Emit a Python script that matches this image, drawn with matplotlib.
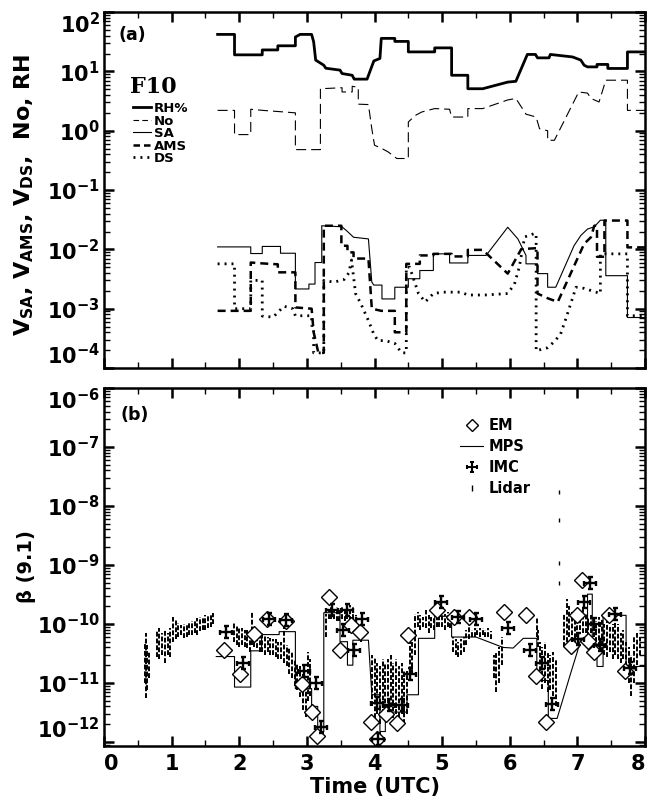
import numpy as np
import matplotlib
matplotlib.use("Agg")
import matplotlib.pyplot as plt
import matplotlib.ticker as ticker
from matplotlib.lines import Line2D
from matplotlib.path import Path

# ---- panel (a): step-like time series, F10 ----
rh_t = [1.68, 1.93, 1.93, 2.34, 2.34, 2.57, 2.57, 2.83, 2.83, 2.90, 3.07, 3.10, 3.13, 3.25, 3.28, 3.49,
        3.52, 3.67, 3.70, 3.89, 3.99, 4.08, 4.10, 4.30, 4.30, 4.50, 4.50, 4.89, 4.89, 5.14, 5.14, 5.38,
        5.38, 5.60, 5.97, 6.09, 6.26, 6.38, 6.41, 6.58, 6.60, 6.93, 7.05, 7.10, 7.15, 7.29, 7.29, 7.45,
        7.45, 7.74, 7.74, 8.00]
rh_v = [42, 42, 19, 19, 23, 23, 27, 27, 38, 42, 42, 31.5, 15.5, 12.7, 11.3, 10.5,
        9.2, 8.6, 7.4, 7.4, 15, 16.5, 36, 36, 32, 32, 21.3, 21.3, 24.9, 24.9, 8.6, 8.6,
        5.1, 5.1, 6.6, 6.8, 19.3, 19.3, 16.9, 16.9, 19.3, 17.5, 15.5, 12.7, 11.9, 11.9, 13.1, 13.1,
        11.2, 11.2, 21.3, 21.3]

no_t = [1.68, 1.93, 1.93, 2.17, 2.17, 2.35, 2.71, 2.83, 2.83, 3.20, 3.20, 3.52, 3.52, 3.67, 3.67, 3.76,
        3.76, 3.91, 3.96, 4.00, 4.11, 4.20, 4.33, 4.50, 4.50, 4.60, 4.70, 4.89, 5.11, 5.14, 5.38, 5.38,
        5.60, 5.97, 6.09, 6.24, 6.39, 6.44, 6.56, 6.56, 6.66, 7.02, 7.15, 7.20, 7.32, 7.42, 7.74, 7.74,
        8.00]
no_v = [2.2, 2.2, 0.86, 0.86, 2.3, 2.2, 2.05, 2.0, 0.48, 0.48, 5.1, 5.3, 4.5, 4.5, 5.6, 5.4,
        2.8, 2.76, 1.08, 0.57, 0.5, 0.44, 0.34, 0.34, 1.4, 1.8, 2.07, 2.36, 2.3, 1.7, 1.7, 2.36,
        2.36, 3.3, 3.5, 1.9, 1.7, 1.08, 1.0, 0.69, 0.69, 4.5, 4.3, 3.5, 3.05, 7.1, 7.1, 2.2,
        2.2]

sa_t = [1.68, 2.17, 2.17, 2.34, 2.34, 2.61, 2.61, 2.83, 2.83, 3.03, 3.03, 3.12, 3.12, 3.22, 3.22, 3.52,
        3.60, 3.69, 3.91, 3.96, 3.99, 4.11, 4.11, 4.30, 4.30, 4.50, 4.50, 4.67, 4.67, 4.87, 4.87, 5.11,
        5.11, 5.38, 5.38, 5.65, 5.97, 6.12, 6.24, 6.24, 6.41, 6.41, 6.56, 6.56, 6.68, 6.95, 7.05, 7.15,
        7.25, 7.34, 7.42, 7.42, 7.74, 7.74, 8.00]
sa_v = [0.011, 0.011, 0.0085, 0.0085, 0.0112, 0.0112, 0.0086, 0.0086, 0.00215, 0.00215, 0.0026, 0.0026,
        0.006, 0.006, 0.025, 0.024, 0.02, 0.016, 0.015, 0.0028, 0.0025, 0.0025, 0.00146, 0.00146,
        0.0023, 0.0023, 0.0032, 0.0032, 0.0044, 0.0044, 0.0084, 0.0084, 0.0059, 0.0059, 0.0079, 0.0079,
        0.0236, 0.015, 0.0079, 0.0057, 0.0057, 0.0039, 0.0039, 0.0023, 0.0023, 0.0115, 0.0171, 0.022,
        0.024, 0.031, 0.031, 0.0036, 0.0036, 0.00071, 0.00071]

ams_t = [1.68, 2.17, 2.17, 2.34, 2.57, 2.57, 2.83, 2.83, 3.07, 3.10, 3.17, 3.25, 3.25, 3.51, 3.51, 3.60,
         3.60, 3.69, 3.69, 3.91, 3.96, 4.10, 4.30, 4.30, 4.47, 4.47, 4.67, 4.67, 4.87, 4.87, 5.14, 5.14,
         5.38, 5.38, 5.60, 5.97, 6.17, 6.41, 6.41, 6.56, 6.71, 7.10, 7.20, 7.25, 7.29, 7.29, 7.40, 7.40,
         7.74, 7.74, 8.00]
ams_v = [0.00092, 0.00092, 0.006, 0.0058, 0.0056, 0.0041, 0.0041, 0.00105, 0.001, 0.0004, 0.00018, 0.00018,
         0.025, 0.025, 0.0115, 0.0115, 0.0089, 0.0089, 0.007, 0.007, 0.001, 0.00092, 0.00092, 0.0004,
         0.0004, 0.0057, 0.0057, 0.0079, 0.0079, 0.0084, 0.0084, 0.0076, 0.0076, 0.0098, 0.0098, 0.0039,
         0.0101, 0.0105, 0.0018, 0.0015, 0.0013, 0.0124, 0.016, 0.025, 0.025, 0.0075, 0.0075, 0.0306,
         0.0306, 0.0108, 0.0108]

ds_t = [1.68, 1.93, 1.93, 2.17, 2.17, 2.34, 2.34, 2.50, 2.66, 2.79, 2.83, 3.07, 3.07, 3.10, 3.10, 3.25,
        3.25, 3.40, 3.55, 3.62, 3.66, 3.72, 3.80, 3.91, 3.99, 4.05, 4.16, 4.30, 4.40, 4.47, 4.47, 4.52,
        4.65, 4.75, 4.87, 5.01, 5.28, 5.38, 5.63, 5.97, 6.07, 6.14, 6.22, 6.36, 6.39, 6.39, 6.56, 6.66,
        6.75, 6.82, 6.90, 6.98, 7.10, 7.34, 7.34, 7.74, 7.74, 8.00]
ds_v = [0.0057, 0.0057, 0.001, 0.001, 0.003, 0.003, 0.00075, 0.00072, 0.0011, 0.001, 0.00076, 0.00076,
        0.00052, 0.00052, 0.00018, 0.00018, 0.003, 0.0028, 0.0031, 0.004, 0.0066, 0.0018, 0.0012, 0.00063,
        0.00037, 0.00029, 0.00029, 0.00026, 0.00018, 0.00018, 0.005, 0.005, 0.0018, 0.0013, 0.0018, 0.0019,
        0.0019, 0.0017, 0.0017, 0.0018, 0.0026, 0.005, 0.0162, 0.0184, 0.0184, 0.000195, 0.00022, 0.00028,
        0.00037, 0.00063, 0.0012, 0.0023, 0.0022, 0.0018, 0.0084, 0.0084, 0.00076, 0.00076]

# ---- panel (b): backscatter beta(9.1) ----
em_t = [1.77, 2.01, 2.22, 2.41, 2.69, 2.93, 3.08, 3.15, 3.32, 3.49, 3.65, 3.79, 3.95, 4.03, 4.17, 4.33,
        4.49, 4.92, 5.18, 5.40, 5.92, 6.24, 6.39, 6.54, 6.91, 7.00, 7.07, 7.15, 7.24, 7.46, 7.71]
em_v = [3.6e-11, 1.4e-11, 6.8e-11, 1.2e-10, 1.1e-10, 9.5e-12, 3.2e-12, 1.25e-12, 2.9e-10, 3.6e-11,
        9.7e-11, 7.2e-11, 2.2e-12, 1.1e-12, 3.0e-12, 2.1e-12, 6.4e-11, 1.7e-10, 1.3e-10, 1.3e-10,
        1.6e-10, 1.4e-10, 1.3e-11, 2.2e-12, 4.2e-11, 1.4e-10, 5.6e-10, 5.2e-11, 3.4e-11, 1.4e-10, 1.6e-11]

imc_t = [1.80, 2.05, 2.44, 2.69, 2.95, 3.13, 3.21, 3.37, 3.54, 3.59, 3.69, 3.81, 4.03, 4.05, 4.21, 4.40,
         4.52, 4.99, 5.24, 5.50, 5.97, 6.30, 6.47, 6.63, 7.01, 7.10, 7.19, 7.25, 7.34, 7.56, 7.78]
imc_v = [7.2e-11, 2.2e-11, 1.2e-10, 1.15e-10, 1.6e-11, 1.0e-11, 1.8e-12, 1.7e-10, 7.9e-11, 1.7e-10,
         3.6e-11, 1.2e-10, 4.6e-12, 1.1e-12, 4.3e-12, 4.3e-12, 1.4e-11, 2.4e-10, 1.3e-10, 1.2e-10,
         8.7e-11, 3.6e-11, 2.2e-11, 4.4e-12, 5.6e-11, 2.4e-10, 4.9e-10, 1.0e-10, 4.4e-11, 1.45e-10, 1.8e-11]

mps_t = [1.66, 1.93, 1.93, 2.17, 2.17, 2.33, 2.33, 2.59, 2.59, 2.83, 2.83, 3.07, 3.07, 3.16, 3.16, 3.25,
         3.25, 3.49, 3.49, 3.60, 3.60, 3.68, 3.68, 3.91, 3.96, 4.08, 4.08, 4.16, 4.16, 4.48, 4.48, 4.65,
         4.65, 4.89, 4.89, 5.14, 5.14, 5.50, 5.90, 6.05, 6.20, 6.40, 6.40, 6.57, 6.57, 6.70, 6.80, 6.90,
         7.00, 7.05, 7.15, 7.15, 7.22, 7.22, 7.29, 7.29, 7.38, 7.38, 7.72, 7.72, 8.00]
mps_v = [2.8e-11, 2.8e-11, 8.5e-12, 8.5e-12, 3.5e-11, 3.5e-11, 6.6e-11, 6.6e-11, 7.4e-11, 7.4e-11,
         8.0e-12, 8.0e-12, 4.0e-12, 4.0e-12, 1.5e-12, 1.5e-12, 1.55e-10, 1.55e-10, 5.0e-11, 5.0e-11,
         2.0e-11, 2.0e-11, 5.3e-11, 5.3e-11, 6.3e-12, 6.3e-12, 1.5e-12, 1.5e-12, 3.2e-12, 3.2e-12,
         6.3e-12, 6.3e-12, 5.7e-11, 5.7e-11, 1.35e-10, 1.35e-10, 6.0e-11, 6.0e-11, 4.0e-11, 3.9e-11,
         5.7e-11, 5.7e-11, 1.1e-11, 1.1e-11, 2.5e-12, 2.5e-12, 6.0e-12, 1.45e-11, 3.4e-11, 5.7e-11,
         5.7e-11, 3.2e-10, 3.2e-10, 4.6e-11, 4.6e-11, 1.9e-11, 1.9e-11, 1.4e-10, 1.4e-10, 1.9e-11, 1.9e-11]

# lidar: vertical extent of the point cloud read at each time
lidar_t = [0.60, 0.62, 0.64, 0.66, 0.78, 0.82, 0.86, 0.90, 0.94, 0.98,
           1.02, 1.06, 1.10, 1.14, 1.18, 1.22, 1.26, 1.30, 1.34, 1.38,
           1.42, 1.46, 1.50, 1.54, 1.58, 1.61, 1.92, 1.96, 2.00, 2.04,
           2.08, 2.12, 2.16, 2.19, 2.22, 2.26, 2.30, 2.34, 2.38, 2.42,
           2.46, 2.50, 2.54, 2.58, 2.62, 2.66, 2.70, 2.74, 2.78, 2.82,
           2.86, 2.90, 2.94, 2.98, 3.01, 3.04, 3.28, 3.32, 3.36, 3.40,
           3.44, 3.48, 3.52, 3.56, 3.60, 3.64, 3.68, 3.72, 3.80, 3.96,
           4.00, 4.04, 4.08, 4.12, 4.16, 4.20, 4.24, 4.28, 4.32, 4.36,
           4.40, 4.44, 4.48, 4.52, 4.56, 4.60, 4.64, 4.68, 4.72, 4.76,
           4.80, 4.84, 4.88, 4.92, 4.96, 5.00, 5.04, 5.08, 5.12, 5.16,
           5.20, 5.24, 5.28, 5.32, 5.36, 5.40, 5.44, 5.48, 5.52, 5.56,
           5.60, 5.64, 5.68, 5.72, 5.76, 5.80, 5.84, 5.88, 6.40, 6.42,
           6.44, 6.48, 6.52, 6.56, 6.60, 6.64, 6.68, 6.80, 6.84, 6.88,
           6.92, 6.96, 7.00, 7.04, 7.08, 7.12, 7.16, 7.20, 7.24, 7.28,
           7.32, 7.36, 7.40, 7.44, 7.48, 7.52, 7.56, 7.60, 7.64, 7.68,
           7.72, 7.76, 7.80, 7.84, 7.88, 7.92]
lidar_lo = [1.0e-11, 5.6e-12, 7.6e-12, 1.2e-11, 2.8e-11, 2.5e-11, 3.0e-11, 2.2e-11, 3.0e-11, 2.8e-11,
            5.0e-11, 5.5e-11, 6.0e-11, 6.5e-11, 5.8e-11, 6.0e-11, 6.5e-11, 6.5e-11, 7.1e-11, 6.5e-11,
            7.5e-11, 8.0e-11, 8.0e-11, 8.6e-11, 9.0e-11, 1.0e-10, 5.0e-11, 4.4e-11, 4.0e-11, 4.4e-11,
            4.0e-11, 3.9e-11, 3.4e-11, 4.4e-11, 4.0e-11, 3.9e-11, 3.4e-11, 3.4e-11, 3.0e-11, 3.4e-11,
            3.0e-11, 3.0e-11, 2.8e-11, 2.5e-11, 2.5e-11, 2.2e-11, 1.9e-11, 1.4e-11, 1.2e-11, 9.0e-12,
            7.6e-12, 5.8e-12, 3.5e-12, 2.6e-12, 5.0e-12, 6.0e-12, 6.0e-11, 1.2e-10, 1.2e-10, 1.2e-10,
            1.1e-10, 1.1e-10, 1.2e-10, 1.1e-10, 1.2e-10, 1.1e-10, 1.2e-10, 8.0e-11, 5.0e-11, 4.0e-12,
            2.5e-12, 3.0e-12, 2.0e-12, 3.0e-12, 2.6e-12, 3.5e-12, 3.0e-12, 2.5e-12, 3.0e-12, 2.6e-12,
            3.0e-12, 2.0e-12, 3.0e-12, 1.2e-11, 1.4e-11, 3.0e-11, 9.0e-11, 8.0e-11, 9.0e-11, 8.6e-11,
            7.0e-11, 8.6e-11, 8.0e-11, 9.0e-11, 9.0e-11, 9.0e-11, 8.0e-11, 9.0e-11, 8.6e-11, 3.4e-11,
            3.0e-11, 2.8e-11, 3.0e-11, 3.4e-11, 4.4e-11, 5.5e-11, 6.0e-11, 6.0e-11, 6.5e-11, 6.0e-11,
            6.5e-11, 6.0e-11, 6.0e-11, 5.5e-11, 1.2e-11, 7.0e-12, 1.0e-11, 2.0e-11, 6.0e-11, 4.0e-11,
            1.2e-11, 8.0e-12, 1.0e-11, 7.0e-12, 7.6e-12, 6.0e-12, 4.0e-12, 4.0e-11, 5.0e-11, 6.0e-11,
            5.0e-11, 4.4e-11, 6.0e-11, 8.0e-11, 7.0e-11, 7.0e-11, 6.0e-11, 7.0e-11, 6.0e-11, 5.0e-11,
            4.0e-11, 3.4e-11, 3.0e-11, 2.8e-11, 3.4e-11, 2.5e-11, 3.0e-11, 2.5e-11, 2.2e-11, 2.5e-11,
            1.5e-11, 1.0e-11, 6.0e-12, 1.0e-11, 2.0e-11, 3.0e-11]
lidar_hi = [5.0e-11, 7.1e-11, 4.4e-11, 3.4e-11, 8.0e-11, 8.6e-11, 7.1e-11, 8.0e-11, 7.1e-11, 8.6e-11,
            1.3e-10, 1.18e-10, 1.05e-10, 9.7e-11, 1.0e-10, 9.7e-11, 1.05e-10, 1.1e-10, 1.18e-10, 1.25e-10,
            1.3e-10, 1.25e-10, 1.4e-10, 1.4e-10, 1.5e-10, 1.55e-10, 1.05e-10, 9.7e-11, 9.0e-11, 8.6e-11,
            8.0e-11, 8.0e-11, 7.1e-11, 1.63e-10, 9.0e-11, 7.5e-11, 6.5e-11, 7.1e-11, 6.5e-11, 6.1e-11,
            5.8e-11, 5.5e-11, 5.5e-11, 5.0e-11, 5.0e-11, 1.2e-10, 4.4e-11, 3.9e-11, 3.4e-11, 2.5e-11,
            2.2e-11, 1.9e-11, 1.4e-11, 1.0e-11, 3.4e-11, 2.5e-11, 1.5e-10, 1.7e-10, 1.9e-10, 1.8e-10,
            1.9e-10, 1.7e-10, 2.0e-10, 1.8e-10, 1.9e-10, 2.1e-10, 2.0e-10, 1.4e-10, 9.0e-11, 3.0e-11,
            2.8e-11, 2.2e-11, 1.9e-11, 2.5e-11, 2.2e-11, 2.5e-11, 3.0e-11, 2.2e-11, 2.5e-11, 1.9e-11,
            2.2e-11, 1.6e-11, 1.6e-11, 5.5e-11, 5.0e-11, 1.5e-10, 1.6e-10, 1.4e-10, 1.3e-10, 1.7e-10,
            1.4e-10, 1.3e-10, 1.25e-10, 1.5e-10, 1.6e-10, 1.7e-10, 1.5e-10, 1.6e-10, 1.4e-10, 6.0e-11,
            5.5e-11, 5.0e-11, 5.5e-11, 6.0e-11, 8.0e-11, 1.0e-10, 8.0e-11, 8.6e-11, 8.6e-11, 8.6e-11,
            8.6e-11, 8.0e-11, 8.6e-11, 7.5e-11, 3.0e-11, 3.4e-11, 4.0e-11, 6.0e-11, 1.3e-10, 8.0e-11,
            5.0e-11, 4.0e-11, 5.0e-11, 3.4e-11, 3.0e-11, 3.4e-11, 2.5e-11, 1.5e-10, 2.6e-10, 2.0e-10,
            1.6e-10, 1.4e-10, 1.6e-10, 1.5e-10, 1.8e-10, 1.5e-10, 1.3e-10, 1.4e-10, 1.2e-10, 1.1e-10,
            1.3e-10, 1.2e-10, 1.0e-10, 1.1e-10, 9.0e-11, 1.0e-10, 1.2e-10, 1.0e-10, 7.0e-11, 8.0e-11,
            5.0e-11, 4.0e-11, 3.0e-11, 6.0e-11, 7.0e-11, 6.0e-11]
# isolated lidar returns above the cloud near 6.7 UTC
spike_t = [6.73, 6.73, 6.73, 6.73]
spike_v = [1.7e-8, 5.9e-9, 1.1e-9, 5.0e-10]

hours = [0, 1, 2, 3, 4, 5, 6, 7, 8]

# plus sign with small end bars, like the IMC symbol of the original
_c = 0.4
IMC_MARK = Path(
    [(-1, 0), (1, 0), (0, -1), (0, 1),
     (-1, -_c), (-1, _c), (1, -_c), (1, _c),
     (-_c, -1), (_c, -1), (-_c, 1), (_c, 1)],
    [Path.MOVETO, Path.LINETO] * 6)


def log_label(v, pos):
    return f'$10^{{{int(round(np.log10(v)))}}}$'


def style_axis(ax, decades, ylo, yhi):
    ax.set_yscale('log')
    ax.set_xlim(0, 8)
    ax.set_ylim(ylo, yhi)
    ax.set_xticks(hours)
    ax.xaxis.set_minor_locator(ticker.MultipleLocator(0.5))
    ax.set_yticks([10.0 ** d for d in decades])
    ax.yaxis.set_minor_locator(ticker.LogLocator(base=10, subs=np.arange(2, 10), numticks=20))
    ax.yaxis.set_minor_formatter(ticker.NullFormatter())
    ax.yaxis.set_major_formatter(ticker.FuncFormatter(log_label))
    ax.tick_params(which='both', direction='in', top=True, right=True)
    ax.tick_params(which='major', length=7, width=1.8, labelsize=15, pad=3)
    ax.tick_params(which='minor', length=4, width=1.0)
    for s in ax.spines.values():
        s.set_linewidth(1.8)
    # keep the end labels inside the frame, as in the original
    yt = ax.yaxis.get_major_ticks()
    yt[0].label1.set_verticalalignment('bottom')
    yt[-1].label1.set_verticalalignment('top')


def main():
    plt.rcParams['font.family'] = 'DejaVu Sans'
    plt.rcParams['font.weight'] = 'bold'
    plt.rcParams['axes.labelweight'] = 'bold'
    plt.rcParams['mathtext.fontset'] = 'dejavusans'
    plt.rcParams['mathtext.default'] = 'bf'

    fig = plt.figure(figsize=(6.48, 8.02), dpi=100)
    ax1 = fig.add_axes([0.1605, 0.5411, 0.8349, 0.4439])
    ax2 = fig.add_axes([0.1605, 0.0698, 0.8349, 0.4464])

    # panel (a)
    ax1.plot(rh_t, rh_v, color='black', lw=2.0)
    ax1.plot(no_t, no_v, color='black', lw=0.8, ls=(0, (9, 4.5)))
    ax1.plot(sa_t, sa_v, color='black', lw=0.8)
    ax1.plot(ams_t, ams_v, color='black', lw=1.8, ls=(0, (3.2, 2)))
    ax1.plot(ds_t, ds_v, color='black', lw=2.0, ls=(0, (0.7, 1.8)))
    style_axis(ax1, range(-4, 3), 0.999e-4, 1.001e2)
    ax1.tick_params(labelbottom=False)
    ax1.set_ylabel(r'$V_{SA}$, $V_{AMS}$, $V_{DS}$,  No, RH', fontsize=16)
    ax1.yaxis.set_label_coords(-0.125, 0.486)
    ax1.text(0.026, 0.935, '(a)', transform=ax1.transAxes, fontsize=12.5, va='center')
    ax1.text(0.048, 0.79, 'F10', transform=ax1.transAxes, fontsize=16,
             family='DejaVu Serif', weight='bold', va='center')

    h1 = [Line2D([], [], color='black', lw=2.0),
          Line2D([], [], color='black', lw=0.8, ls=(0, (5, 3))),
          Line2D([], [], color='black', lw=0.8),
          Line2D([], [], color='black', lw=1.8, ls=(0, (2.6, 1.6))),
          Line2D([], [], color='black', lw=2.0, ls=(0, (0.7, 1.8)))]
    ax1.legend(h1, ['RH%', 'No', 'SA', 'AMS', 'DS'], loc='upper left',
               bbox_to_anchor=(0.054, 0.747), frameon=False, fontsize=9.5,
               handlelength=1.35, handletextpad=0.2, labelspacing=-0.04,
               borderpad=0, borderaxespad=0)

    # panel (b)
    ax2.vlines(lidar_t, lidar_lo, lidar_hi, colors='black', lw=1.4, linestyles=(0, (2.5, 1)))
    ax2.plot(spike_t, spike_v, ls='none', marker='|', ms=3, color='black', mew=1)
    ax2.plot(mps_t, mps_v, color='black', lw=0.8)
    ax2.plot(em_t, em_v, ls='none', marker='D', ms=8.5, mfc='white', mec='black', mew=1.0)
    ax2.plot(imc_t, imc_v, ls='none', marker=IMC_MARK, ms=9, mew=1.7, color='black')
    style_axis(ax2, range(-12, -5), 10 ** -12.07, 1.001e-6)
    ax2.set_xlabel('Time (UTC)', fontsize=15, labelpad=2)
    ax2.set_ylabel('β (9.1)', fontsize=14)
    ax2.yaxis.set_label_coords(-0.125, 0.5)
    ax2.text(0.03, 0.925, '(b)', transform=ax2.transAxes, fontsize=12.5, va='center')
    ax2.tick_params(axis='x', pad=6)
    xl = ax2.get_xticklabels()
    xl[0].set_horizontalalignment('left')
    xl[-1].set_horizontalalignment('right')

    h2 = [Line2D([], [], ls='none', marker='D', ms=6, mfc='white', mec='black', mew=1.0),
          Line2D([], [], color='black', lw=0.8),
          Line2D([], [], ls='none', marker=IMC_MARK, ms=7, mew=1.5, color='black'),
          Line2D([], [], ls='none', marker='|', ms=5, color='black')]
    ax2.legend(h2, ['EM', 'MPS', 'IMC', 'Lidar'], loc='upper left',
               bbox_to_anchor=(0.658, 0.916), frameon=False, fontsize=10.5,
               handlelength=1.58, handletextpad=0.35, labelspacing=0.42,
               borderpad=0, borderaxespad=0)

    fig.savefig('out.png', dpi=100)


if __name__ == "__main__":
    main()
